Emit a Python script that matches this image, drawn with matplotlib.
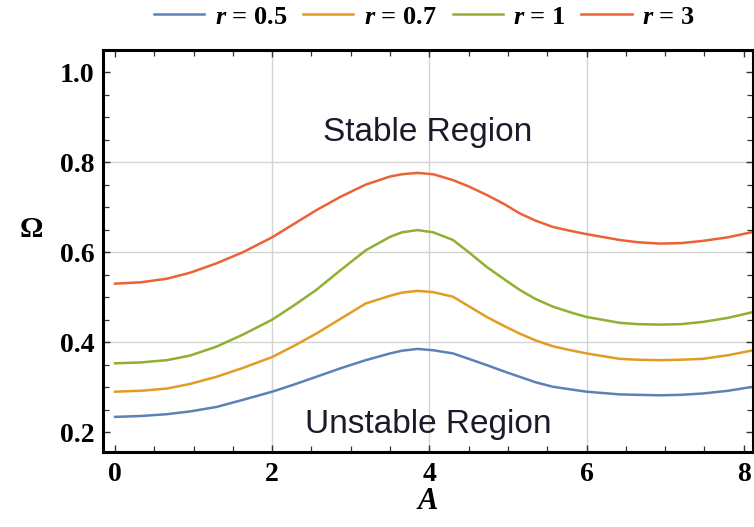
import matplotlib
matplotlib.use("Agg")
import matplotlib.pyplot as plt
from matplotlib.ticker import MultipleLocator

plt.rcParams["mathtext.fontset"] = "custom"
plt.rcParams["mathtext.rm"] = "Liberation Serif:bold"
plt.rcParams["mathtext.it"] = "Liberation Serif:italic:bold"

# values
A_VALUES = [0.0, 0.33, 0.66, 0.95, 1.29, 1.63, 2.0, 2.28, 2.56, 2.87, 3.19, 3.5, 3.65, 3.85, 4.05, 4.3, 4.5,
            4.73, 4.95, 5.15, 5.35, 5.57, 5.8, 6.0, 6.42, 6.65, 6.93, 7.2, 7.48, 7.8, 8.12]
OMEGA_R05 = [0.234, 0.236, 0.240, 0.246, 0.256, 0.272, 0.290, 0.306, 0.323, 0.342, 0.360, 0.375, 0.381, 0.385, 0.382, 0.375, 0.363,
             0.349, 0.335, 0.323, 0.311, 0.301, 0.295, 0.290, 0.284, 0.283, 0.282, 0.283, 0.286, 0.292, 0.301]
OMEGA_R07 = [0.290, 0.292, 0.297, 0.307, 0.323, 0.343, 0.367, 0.392, 0.419, 0.452, 0.486, 0.503, 0.510, 0.514, 0.511, 0.501, 0.480,
             0.456, 0.436, 0.419, 0.404, 0.391, 0.382, 0.375, 0.363, 0.361, 0.360, 0.361, 0.363, 0.371, 0.382]
OMEGA_R1 = [0.353, 0.355, 0.360, 0.370, 0.390, 0.417, 0.450, 0.482, 0.516, 0.560, 0.604, 0.634, 0.644, 0.649, 0.644, 0.627, 0.600,
            0.567, 0.540, 0.516, 0.496, 0.479, 0.466, 0.456, 0.443, 0.440, 0.439, 0.440, 0.445, 0.454, 0.467]
OMEGA_R3 = [0.530, 0.533, 0.541, 0.554, 0.575, 0.600, 0.633, 0.663, 0.693, 0.723, 0.750, 0.768, 0.773, 0.776, 0.773, 0.760, 0.746,
            0.727, 0.707, 0.686, 0.670, 0.656, 0.647, 0.640, 0.627, 0.622, 0.619, 0.620, 0.625, 0.633, 0.645]

SERIES = [
    (OMEGA_R05, r"$r$ = 0.5", "#5E81B5"),
    (OMEGA_R07, r"$r$ = 0.7", "#E19C24"),
    (OMEGA_R1, r"$r$ = 1", "#8FB032"),
    (OMEGA_R3, r"$r$ = 3", "#EB6235"),
]

X_GRID = [2, 4, 6]
Y_GRID = [0.4, 0.6, 0.8]

SERIF = "Liberation Serif"

fig = plt.figure(figsize=(7.54, 5.27), dpi=100)
ax = fig.add_axes([0.1366, 0.1423, 0.862, 0.7628])

for xv in X_GRID:
    ax.axvline(xv, color="#d4d4d4", lw=1.0, zorder=0)
for yv in Y_GRID:
    ax.axhline(yv, color="#d4d4d4", lw=1.0, zorder=0)

for vals, label, color in SERIES:
    ax.plot(A_VALUES, vals, color=color, lw=1.8, label=label, solid_joinstyle="round")

ax.set_xlim(-0.153, 8.117)
ax.set_ylim(0.156, 1.049)
ax.xaxis.set_major_locator(MultipleLocator(2))
ax.xaxis.set_minor_locator(MultipleLocator(0.5))
ax.yaxis.set_major_locator(MultipleLocator(0.2))
ax.yaxis.set_minor_locator(MultipleLocator(0.05))
ax.tick_params(which="both", direction="in", top=True, right=True, color="#333333")
ax.tick_params(which="major", length=5, width=1.0)
ax.tick_params(which="minor", length=4, width=0.9)
ax.set_xticks([0, 2, 4, 6, 8])
ax.set_yticks([0.2, 0.4, 0.6, 0.8, 1.0])
ax.set_xticklabels(["0", "2", "4", "6", "8"])
ax.set_yticklabels(["0.2", "0.4", "0.6", "0.8", "1.0"])
for lab in ax.get_xticklabels() + ax.get_yticklabels():
    lab.set_fontfamily(SERIF)
    lab.set_fontweight("bold")
    lab.set_fontsize(20)
ax.tick_params(axis="x", pad=7)
ax.tick_params(axis="y", pad=6)

for spine in ax.spines.values():
    spine.set_linewidth(2.2)
    spine.set_color("black")

ax.set_xlabel("A", family=SERIF, fontweight="bold", fontstyle="italic", fontsize=22, labelpad=0)
ax.set_ylabel("Ω", family=SERIF, fontweight="bold", fontsize=21, rotation=0, labelpad=14)
ax.yaxis.set_label_coords(-0.11, 0.52)

ax.text(3.98, 0.866, "Stable Region", ha="center", va="center", fontsize=24,
        family="Liberation Sans", color="#1a1a2a")
ax.text(3.98, 0.218, "Unstable Region", ha="center", va="center", fontsize=24,
        family="Liberation Sans", color="#1a1a2a")

fig.legend(loc="center", bbox_to_anchor=(0.563, 0.968), ncol=4, frameon=False,
           prop={"family": SERIF, "weight": "bold", "size": 19},
           handlelength=1.9, handletextpad=0.4, columnspacing=0.6)

fig.savefig("out.png", dpi=100)
